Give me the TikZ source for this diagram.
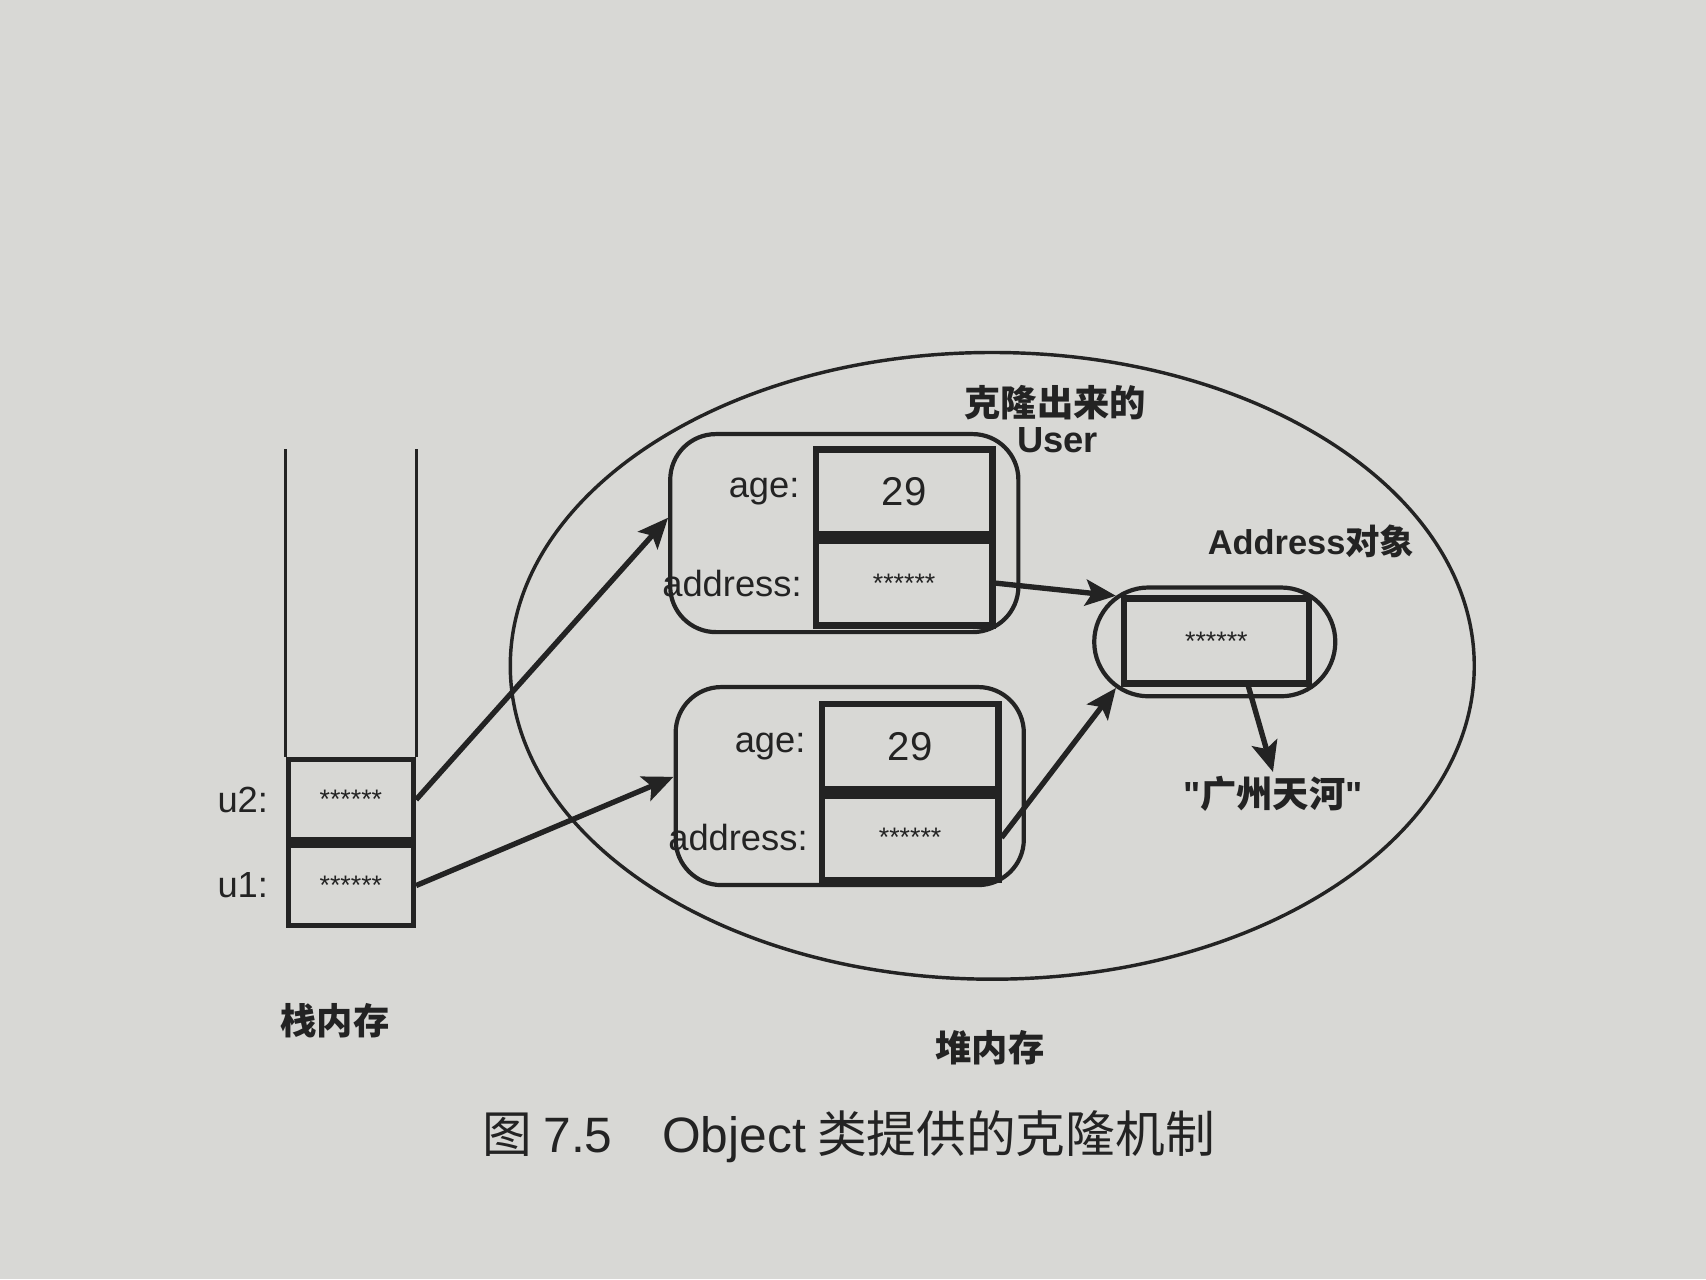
\documentclass[tikz,border=0pt]{standalone}
\usepackage{fontspec}
\setsansfont{Liberation Sans}
\newfontfamily\cjk{Noto Sans CJK SC}
\usetikzlibrary{positioning, shapes.geometric, shapes.misc, arrows.meta}
\definecolor{paper}{RGB}{216,216,213}
\definecolor{ink}{RGB}{35,35,35}

\begin{document}
\begin{tikzpicture}[-,auto,color=ink,font=\sffamily,
    cell node/.style={rectangle,draw,line width=1.4pt,minimum width=1.15cm,minimum height=0.74cm,inner sep=0pt,font=\sffamily\scriptsize},
    field node/.style={rectangle,draw,line width=1.7pt,minimum width=1.62cm,minimum height=0.78cm,inner sep=0pt,font=\sffamily\fontsize{10.5}{12}\selectfont},
    obj node/.style={rectangle,draw,rounded corners=0.42cm,line width=1.1pt,minimum width=3.2cm,minimum height=1.82cm},
    label node/.style={inner sep=1pt,font=\sffamily\fontsize{9.5}{11}\selectfont},
    title node/.style={inner sep=1pt,font=\cjk\bfseries\fontsize{9.5}{11}\selectfont},
    ptr/.style={->,line width=1.4pt,>={Stealth[length=2.8mm,width=2.4mm,inset=0.6mm]}}]

  \fill[paper] (0,0) rectangle (15.68,11.76);
  \useasboundingbox (0,0) rectangle (15.68,11.76);

  % stack
  \node[cell node] (u2) at (3.225,4.41) {******};
  \node[cell node] (u1) [below=0pt of u2] {******};
  \draw[line width=0.8pt] (u2.north west) -- ++(0,2.83);
  \draw[line width=0.8pt] (u2.north east) -- ++(0,2.83);
  \node[label node] (l2) [left=0.12cm of u2] {u2:};
  \node[label node] (l1) [left=0.12cm of u1] {u1:};
  \node[title node] (stack) at (3.08,2.38) {栈内存};

  % heap
  \node[ellipse,draw,line width=0.9pt,minimum width=8.86cm,minimum height=5.76cm] (heap) at (9.12,5.64) {};
  \node[title node] (heaptitle) at (9.10,2.13) {堆内存};

  \node[obj node] (user1) at (7.76,6.86) {};
  \node[field node] (age1) at (8.31,7.24) {29};
  \node[field node,font=\sffamily\scriptsize] (addr1) [below=0pt of age1] {******};
  \node[label node] (a1) [left=0.08cm of age1] {age:};
  \node[label node] (d1) [left=0.06cm of addr1] {address:};
  \node[title node] (clone) at (9.70,8.06) {克隆出来的};
  \node[inner sep=1pt,font=\sffamily\bfseries\fontsize{9.5}{11}\selectfont] (clone2) at (9.72,7.71) {User};

  \node[obj node] (user2) at (7.81,4.535) {};
  \node[field node] (age2) at (8.365,4.90) {29};
  \node[field node,font=\sffamily\scriptsize] (addr2) [below=0pt of age2] {******};
  \node[label node] (a2) [left=0.08cm of age2] {age:};
  \node[label node] (d2) [left=0.06cm of addr2] {address:};

  \node[rounded rectangle,draw,line width=1.1pt,minimum width=2.45cm,minimum height=1.0cm] (addrobj) at (11.165,5.86) {};
  \node[field node,minimum width=1.70cm,font=\sffamily\scriptsize] (addrbox) at (11.18,5.87) {******};
  \node[inner sep=1pt,font=\sffamily\bfseries\fontsize{9}{11}\selectfont] (addrtitle) at (12.05,6.78) {Address{\cjk 对象}};
  \node[title node] (gz) at (11.70,4.46) {{\sffamily\textquotedbl}广州天河{\sffamily\textquotedbl}};

  \path[ptr]
    (u2.east) edge (user1.175)
    (u1.east) edge (user2.177)
    (addr1.east) edge (addrobj.155)
    (addr2.east) edge (addrobj.205)
    (addrbox.-55) edge (gz.north);

  \node[inner sep=1pt,font=\cjk\fontsize{13}{15}\selectfont] (caption) at (7.80,1.31) {图 {\sffamily 7.5}\quad {\sffamily Object} 类提供的克隆机制};
\end{tikzpicture}
\end{document}
